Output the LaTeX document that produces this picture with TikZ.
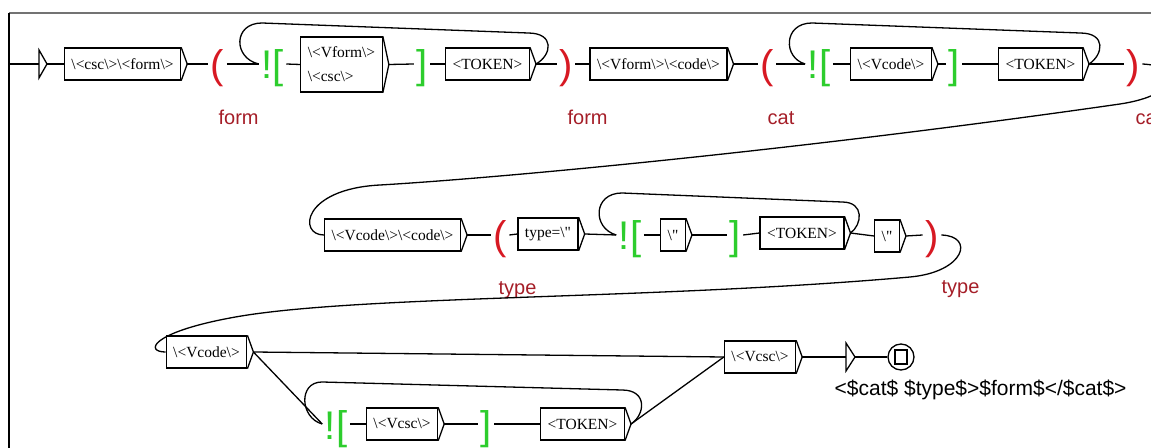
\documentclass[tikz,border=0pt]{standalone}
\usepackage{fontspec}
\setmainfont{Liberation Serif}
\setsansfont{Liberation Sans}
\usepackage{tikz}
\definecolor{varred}{RGB}{215,25,35}
\definecolor{labred}{RGB}{165,30,40}
\definecolor{ctxgreen}{RGB}{45,205,45}
\newcommand{\bksl}{\textbackslash}
\newcommand{\boxfont}{\rmfamily\fontsize{7.75}{12}\selectfont}
\newcommand{\symfont}{\sffamily\fontsize{20}{20}\selectfont}
\newcommand{\labfont}{\sffamily\fontsize{10}{12}\selectfont}

\begin{document}
\begin{tikzpicture}[x=0.5pt,y=-0.5pt,line width=0.65pt,
  box/.style={draw,minimum height=16pt,inner xsep=3.5pt,inner ysep=0pt,font=\boxfont},
  sym/.style={inner xsep=1pt,inner ysep=0pt,text height=15pt,text depth=0pt,font=\symfont},
  paren/.style={sym,text=varred},ctx/.style={sym,text=ctxgreen},
  varname/.style={anchor=base west,inner sep=0pt,font=\labfont,text=labred}]
  \useasboundingbox (0,0) rectangle (1151,448);
  \clip (0,0) rectangle (1151,448);
  % window frame
  \draw[black!55,line width=0.9pt] (9,13) -- (1151,13);
  \draw[line width=0.9pt] (9,13) -- (9,448);
  % first row
  \coordinate (entry) at (9,64);
  \coordinate (init) at (39,64);
  \draw (init) ++(0,-14) -- ++(8,14) coordinate (init-o) -- ++(-8,14) -- cycle;
  \node[box] (cscform) at (122.5,64) {\bksl<csc\bksl>\bksl<form\bksl>};
  \node[paren] (openA) at (217.5,64) {(};
  \node[ctx] (bangA) at (272.5,64) {![};
  \node[box,align=left,minimum height=27.5pt] (vformcsc) at (341.5,64.5) {\bksl<Vform\bksl>\\\bksl<csc\bksl>};
  \node[ctx] (closeA) at (422,64) {]};
  \node[box] (tokA) at (487.5,64) {<TOKEN>};
  \node[paren] (endA) at (566,64) {)};
  \node[box] (vformcode) at (658.5,64) {\bksl<Vform\bksl>\bksl<code\bksl>};
  \node[paren] (openB) at (767,64) {(};
  \node[ctx] (bangB) at (819,64) {![};
  \node[box] (vcodeA) at (891,64) {\bksl<Vcode\bksl>};
  \node[ctx] (closeB) at (954,64) {]};
  \node[box] (tokB) at (1040.5,64) {<TOKEN>};
  \node[paren] (endB) at (1133,64) {)};
  \node[varname] (formA) at (218,125) {form};
  \node[varname] (formB) at (567,125) {form};
  \node[varname] (catA) at (767,125) {cat};
  \node[varname] (catB) at (1135,125) {cat};
  % second row
  \node[box] (vcodecode) at (392.5,235) {\bksl<Vcode\bksl>\bksl<code\bksl>};
  \node[paren] (openC) at (500,235) {(};
  \node[box] (typeq) at (548,234) {type=\bksl\textquotedbl};
  \node[ctx] (bangC) at (630,235) {![};
  \node[box] (quoteA) at (673,235) {\bksl\textquotedbl};
  \node[ctx] (closeC) at (735,235) {]};
  \node[box] (tokC) at (802,233) {<TOKEN>};
  \node[box] (quoteB) at (887,236) {\bksl\textquotedbl};
  \node[paren] (endC) at (932,235) {)};
  \node[varname] (typeA) at (498,295) {type};
  \node[varname] (typeB) at (941,294) {type};
  % third row
  \node[box] (vcodeB) at (206.5,352) {\bksl<Vcode\bksl>};
  \node[ctx] (bangD) at (336,424) {![};
  \node[box] (vcscA) at (402,424) {\bksl<Vcsc\bksl>};
  \node[ctx] (closeD) at (486,424) {]};
  \node[box] (tokD) at (582.5,424) {<TOKEN>};
  \node[box] (vcscB) at (760,357) {\bksl<Vcsc\bksl>};
  \coordinate (fintri) at (846,357);
  \draw (fintri) ++(0,-14) -- ++(9,14) coordinate (fintri-o) -- ++(-9,14) -- cycle;
  \node[draw,circle,minimum size=13pt,inner sep=0pt] (final) at (901,357) {};
  \node[draw,minimum width=6pt,minimum height=7pt,inner sep=0pt] (finalsq) at (final) {};
  \node[anchor=base west,inner sep=0pt,font=\sffamily\fontsize{10.5}{12}\selectfont] (output) at (834,396) {<\$cat\$ \$type\$>\$form\$</\$cat\$>};
  % box outputs
  \foreach \b in {cscform,vformcsc,tokA,vformcode,vcodeA,tokB,vcodecode,typeq,quoteA,tokC,quoteB,vcodeB,vcscA,tokD,vcscB}
    \draw (\b.north east) -- ([xshift=3pt]\b.east) coordinate (\b-o) -- (\b.south east);
  % transitions
  \draw (entry) -- (init);
  \draw (init-o) -- (cscform.west);
  \draw (cscform-o) -- (openA.west);
  \draw (openA.east) -- (bangA.west);
  \draw (bangA.east) -- (vformcsc.west);
  \draw (vformcsc-o) -- (closeA.west);
  \draw (closeA.east) -- (tokA.west);
  \draw (tokA-o) -- (endA.west);
  \draw (tokA-o) .. controls (552,55) and (555,33) .. (528,33) -- (262,23) .. controls (233,23) and (233,58) .. (bangA.west);
  \draw (endA.east) -- (vformcode.west);
  \draw (vformcode-o) -- (openB.west);
  \draw (openB.east) -- (bangB.west);
  \draw (bangB.east) -- (vcodeA.west);
  \draw (vcodeA-o) -- (closeB.west);
  \draw (closeB.east) -- (tokB.west);
  \draw (tokB-o) -- (endB.west);
  \draw (tokB-o) .. controls (1103,55) and (1107,33) .. (1080,33) -- (812,23) .. controls (783,23) and (783,58) .. (bangB.west);
  \draw (endB.east) .. controls (1185,66) and (1180,95) .. (1120,104) .. controls (800,150) and (500,178) .. (380,185)
    .. controls (302,189) and (298,235) .. (vcodecode.west);
  \draw (vcodecode-o) -- (openC.west);
  \draw (openC.east) -- (typeq.west);
  \draw (typeq-o) -- (bangC.west);
  \draw (bangC.east) -- (quoteA.west);
  \draw (quoteA-o) -- (closeC.west);
  \draw (closeC.east) -- (tokC.west);
  \draw (tokC-o) -- (quoteB.west);
  \draw (tokC-o) .. controls (862,225) and (865,202) .. (842,202) -- (622,193) .. controls (593,193) and (592,228) .. (bangC.west);
  \draw (quoteB-o) -- (endC.west);
  \draw (endC.east) .. controls (975,236) and (965,272) .. (910,277) .. controls (650,300) and (350,295) .. (230,318)
    .. controls (150,333) and (145,352) .. (vcodeB.west);
  \draw (vcodeB-o) -- (vcscB.west);
  \draw (vcodeB-o) -- (bangD.west);
  \draw (bangD.east) -- (vcscA.west);
  \draw (vcscA-o) -- (closeD.west);
  \draw (closeD.east) -- (tokD.west);
  \draw (tokD-o) -- (vcscB.west);
  \draw (tokD-o) .. controls (645,415) and (648,390) .. (622,390) -- (322,382) .. controls (298,382) and (300,418) .. (bangD.west);
  \draw (vcscB-o) -- (fintri);
  \draw (fintri-o) -- (final.west);
\end{tikzpicture}
\end{document}
